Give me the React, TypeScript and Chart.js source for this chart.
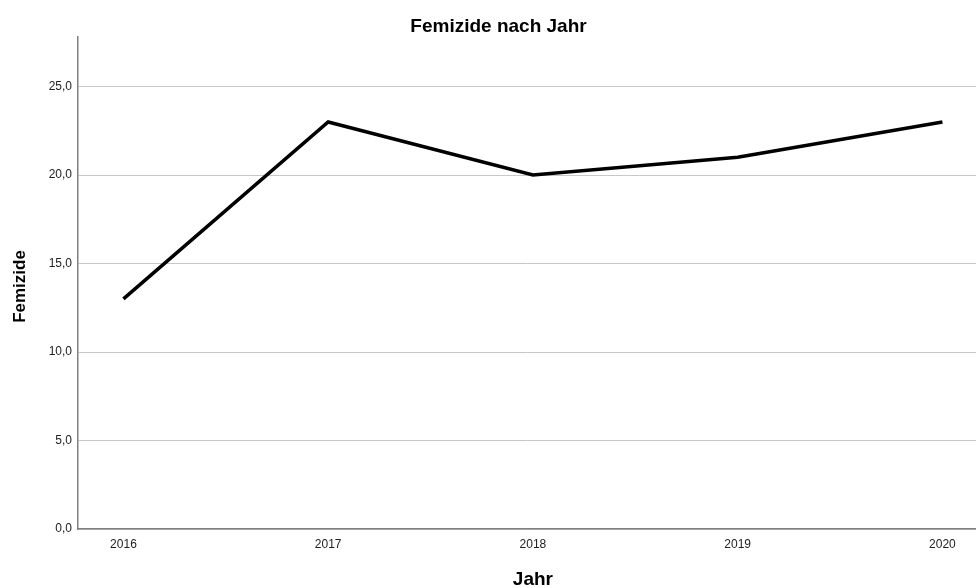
import React, { useEffect, useRef } from "react";
import { Chart, registerables } from "chart.js";

Chart.register(...registerables);

const years = [2016, 2017, 2018, 2019, 2020];
const femizide = [13, 23, 20, 21, 23];
const yTicks = [0, 5, 10, 15, 20, 25];

const chartTitle = "Femizide nach Jahr";
const xTitle = "Jahr";
const yTitle = "Femizide";

const FONT = "'Liberation Sans', Arial, sans-serif";

// Draws the chart title and the two axis titles
const titlesPlugin = {
  id: "titlesPlugin",
  afterDraw(chart: any) {
    const ctx = chart.ctx as CanvasRenderingContext2D;
    const xs = chart.scales.x;
    const W = chart.width;
    const H = chart.height;
    const ca = chart.chartArea;

    const draw = (text: string, x: number, y: number, size: number, rot: number) => {
      ctx.save();
      ctx.fillStyle = "#000000";
      ctx.font = `bold ${size}px ${FONT}`;
      ctx.textAlign = "center";
      ctx.textBaseline = "alphabetic";
      ctx.translate(x, y);
      ctx.rotate(rot);
      ctx.fillText(text, 0, 0);
      ctx.restore();
    };

    // chart title
    draw(chartTitle, W / 2 + 10.5, 31.5, 19, 0);
    // x-axis title centred over the data range
    const xMid = (xs.getPixelForValue(years[0]) + xs.getPixelForValue(years[years.length - 1])) / 2;
    draw(xTitle, xMid, H - 3.5, 19, 0);
    // y-axis title
    draw(yTitle, 25, (ca.top + ca.bottom) / 2 + 3.5, 17, -Math.PI / 2);
  },
};

export default function App() {
  const ref = useRef<HTMLCanvasElement | null>(null);

  useEffect(() => {
    if (!ref.current) return;
    const chart = new Chart(ref.current, {
      type: "line",
      data: {
        datasets: [
          {
            label: "Femizide",
            data: years.map((y, i) => ({ x: y, y: femizide[i] })),
            borderColor: "#000000",
            borderWidth: 3.5,
            pointRadius: 0,
            tension: 0,
            fill: false,
          },
        ],
      },
      plugins: [titlesPlugin],
      options: {
        animation: false,
        responsive: false,
        maintainAspectRatio: false,
        layout: { padding: { left: 0, right: 0, top: 37, bottom: 0 } },
        plugins: {
          legend: { display: false },
          tooltip: { enabled: false },
          title: { display: false },
        },
        scales: {
          x: {
            type: "linear",
            min: 2015.778,
            max: 2020.164,
            afterBuildTicks: (axis: any) => {
              axis.ticks = years.map((v) => ({ value: v }));
            },
            afterFit: (scale: any) => {
              scale.height = 59;
            },
            grid: { display: false, drawTicks: false },
            border: { display: true, color: "#808080", width: 1.5 },
            ticks: {
              color: "#222222",
              padding: 8,
              font: { family: FONT, size: 12 },
              callback: (v: any) => String(v),
              maxRotation: 0,
            },
            title: { display: false },
          },
          y: {
            type: "linear",
            min: 0,
            max: 27.8,
            afterBuildTicks: (axis: any) => {
              axis.ticks = yTicks.map((v) => ({ value: v }));
            },
            afterFit: (scale: any) => {
              scale.width = 78;
            },
            grid: { display: true, drawTicks: false, color: "#c8c8c8", lineWidth: 1 },
            border: { display: true, color: "#808080", width: 1.5 },
            ticks: {
              color: "#222222",
              padding: 6,
              font: { family: FONT, size: 12 },
              callback: (v: any) => Number(v).toFixed(1).replace(".", ","),
            },
            title: { display: false },
          },
        },
      },
    });
    return () => chart.destroy();
  }, []);

  return (
    <div style={{ position: "absolute", left: 0, top: 0, width: 976, height: 588, background: "#ffffff" }}>
      <canvas ref={ref} width={976} height={588} style={{ display: "block" }} />
    </div>
  );
}
